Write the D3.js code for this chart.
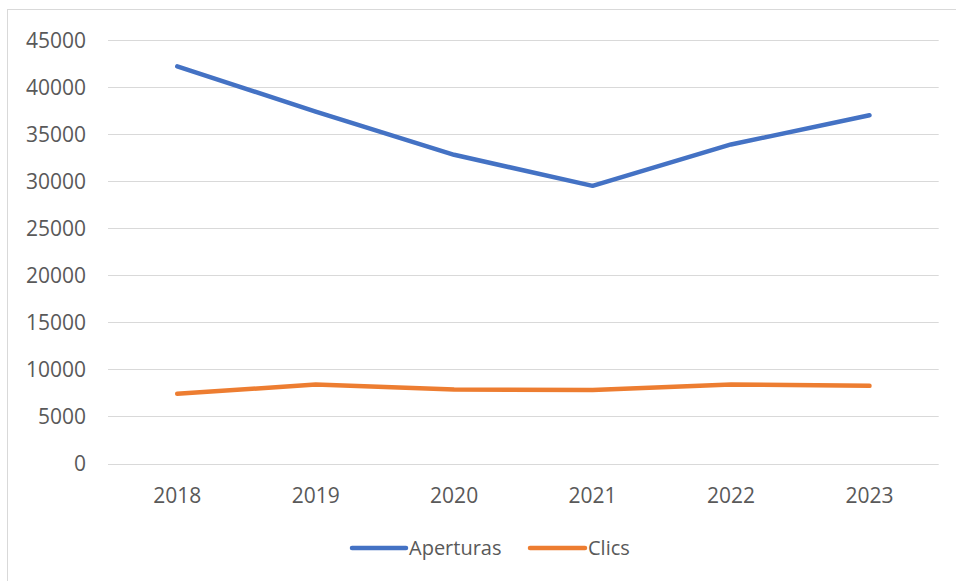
<!DOCTYPE html>
<html>
<head>
<meta charset="utf-8">
<script src="https://cdn.jsdelivr.net/npm/d3@7"></script>
<style>
  html, body { margin: 0; padding: 0; background: #fff; }
  svg { display: block; font-family: "Open Sans", sans-serif; }
</style>
</head>
<body>
<svg id="chart" width="956" height="581"></svg>
<script>
const years = ["2018", "2019", "2020", "2021", "2022", "2023"];
const aperturas = [42200, 37400, 32800, 29500, 33900, 37000];
const clics = [7400, 8400, 7850, 7800, 8400, 8250];
const yTicks = [0, 5000, 10000, 15000, 20000, 25000, 30000, 35000, 40000, 45000];
const seriesNames = ["Aperturas", "Clics"];
const seriesColors = ["#4472C4", "#ED7D31"];

(function () {
const svg = d3.select("#chart");
const plotLeft = 108, plotRight = 938.7, plotTop = 40, plotBottom = 463.5;

// outer chart border
svg.append("rect")
  .attr("x", 7.5).attr("y", 9.5)
  .attr("width", 970).attr("height", 600)
  .attr("fill", "none").attr("stroke", "#D9D9D9").attr("stroke-width", 1);

const x = d3.scaleBand().domain(years).range([plotLeft, plotRight]);
const y = d3.scaleLinear().domain([0, 45000]).range([plotBottom, plotTop]);

// gridlines
svg.append("g").selectAll("line").data(yTicks).join("line")
  .attr("x1", plotLeft).attr("x2", plotRight)
  .attr("y1", d => Math.round(y(d)) + 0.5).attr("y2", d => Math.round(y(d)) + 0.5)
  .attr("stroke", "#D9D9D9").attr("stroke-width", 1);

// y axis labels
const yAxis = d3.axisLeft(y).tickValues(yTicks).tickSize(0).tickPadding(0).tickFormat(d3.format("d"));
const gy = svg.append("g").attr("transform", "translate(86,0)").call(yAxis);
gy.select(".domain").remove();
gy.selectAll("text").attr("fill", "#595959").attr("font-size", "21px")
  .attr("font-family", "Open Sans, sans-serif").attr("dy", "0.35em");

// x axis labels
const xAxis = d3.axisBottom(x).tickSize(0).tickPadding(0);
const gx = svg.append("g").attr("transform", `translate(0,${plotBottom})`).call(xAxis);
gx.select(".domain").remove();
gx.selectAll("text").attr("fill", "#595959").attr("font-size", "21px")
  .attr("font-family", "Open Sans, sans-serif").attr("y", 32).attr("dy", "0.35em");

// lines
const line = d3.line().x((d, i) => x(years[i]) + x.bandwidth() / 2).y(d => y(d));
[aperturas, clics].forEach((s, k) => {
  svg.append("path").datum(s)
    .attr("d", line)
    .attr("fill", "none")
    .attr("stroke", seriesColors[k])
    .attr("stroke-width", 4.5)
    .attr("stroke-linecap", "round")
    .attr("stroke-linejoin", "round");
});

// legend
const legendItems = [{x1: 352, x2: 406, tx: 409}, {x1: 530, x2: 585, tx: 588}];
const lg = svg.append("g");
legendItems.forEach((it, k) => {
  lg.append("line").attr("x1", it.x1).attr("x2", it.x2).attr("y1", 548).attr("y2", 548)
    .attr("stroke", seriesColors[k]).attr("stroke-width", 4.5).attr("stroke-linecap", "round");
  lg.append("text").attr("x", it.tx).attr("y", 548).attr("dy", "0.35em")
    .attr("fill", "#595959").attr("font-size", "20px").text(seriesNames[k]);
});
})();
</script>
</body>
</html>
